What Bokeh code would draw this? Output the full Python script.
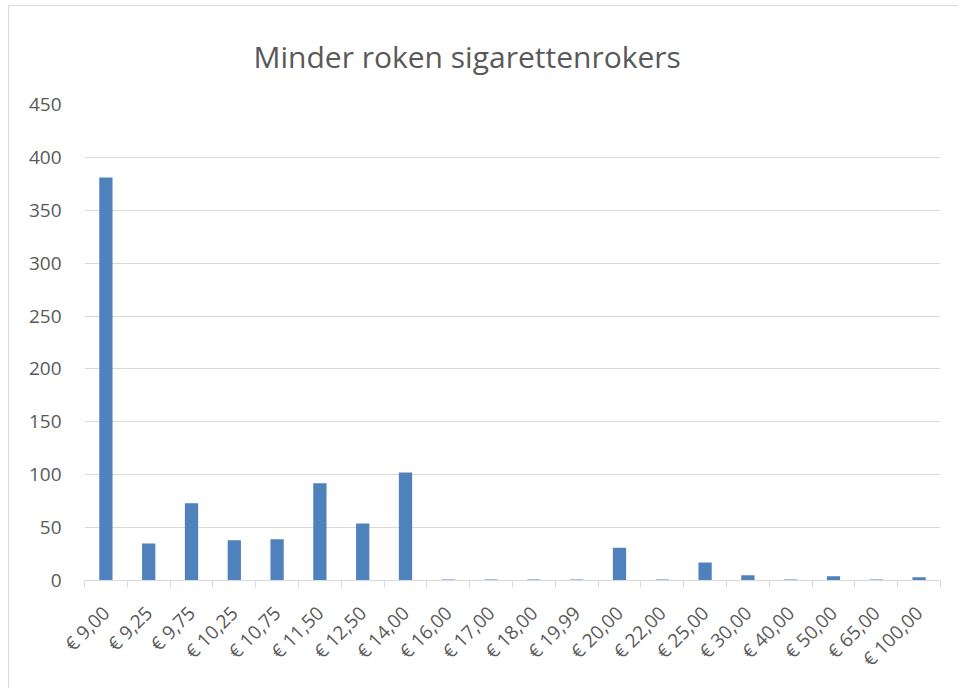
import math
import numpy as np
from bokeh.plotting import figure
from bokeh.models import FixedTicker, Range1d, ColumnDataSource
from bokeh.embed import file_html
from bokeh.resources import INLINE

# ---- data ----
categories = ["€ 9,00", "€ 9,25", "€ 9,75", "€ 10,25", "€ 10,75", "€ 11,50",
              "€ 12,50", "€ 14,00", "€ 16,00", "€ 17,00", "€ 18,00", "€ 19,99",
              "€ 20,00", "€ 22,00", "€ 25,00", "€ 30,00", "€ 40,00", "€ 50,00",
              "€ 65,00", "€ 100,00"]
counts = [381, 35, 73, 38, 39, 92, 54, 102, 1, 1, 1, 1, 31, 1, 17, 5, 1, 4, 1, 3]
y_ticks = [0, 50, 100, 150, 200, 250, 300, 350, 400, 450]
title_text = "Minder roken sigarettenrokers"

FONT = "Open Sans"
TXT = "#595959"
GRID = "#d9d9d9"

n = len(categories)
xs = np.arange(n) + 0.5
src = ColumnDataSource(dict(x=xs, top=counts, label=categories))

p = figure(width=950, height=683, output_backend="svg", toolbar_location=None,
           x_range=Range1d(0, n), y_range=Range1d(y_ticks[0], y_ticks[-1]),
           min_border_left=75, min_border_right=19, min_border_top=98,
           min_border_bottom=109,
           styles={"border-left": "1px solid #d9d9d9", "border-top": "1px solid #d9d9d9",
                   "margin-left": "8px", "margin-top": "5px"})

p.vbar(x="x", top="top", bottom=0, width=0.31, source=src,
       fill_color="#4f81bd", line_color=None)

# title
p.title.text = title_text
p.title.text_font = FONT
p.title.text_font_size = "30px"
p.title.text_font_style = "normal"
p.title.text_color = TXT
p.title.align = "left"
p.title.offset = 169
p.title.standoff = 55

p.outline_line_color = None
p.background_fill_color = "white"
p.border_fill_color = "white"

# x axis
xa = p.xaxis[0]
xa.ticker = FixedTicker(ticks=list(xs), minor_ticks=list(np.arange(n + 1)))
xa.major_label_overrides = {float(x): c for x, c in zip(xs, categories)}
xa.major_label_orientation = math.pi / 4
xa.major_label_text_font = FONT
xa.major_label_text_font_size = "19px"
xa.major_label_text_color = TXT
xa.major_label_standoff = 22
xa.axis_line_color = GRID
xa.major_tick_in = 0
xa.major_tick_out = 0
xa.minor_tick_in = 0
xa.minor_tick_out = 7
xa.minor_tick_line_color = GRID

# y axis
ya = p.yaxis[0]
ya.ticker = FixedTicker(ticks=y_ticks)
ya.axis_line_color = None
ya.major_tick_line_color = None
ya.minor_tick_line_color = None
ya.major_label_text_font = FONT
ya.major_label_text_font_size = "19px"
ya.major_label_text_color = TXT
ya.major_label_standoff = 17

p.xgrid.grid_line_color = None
p.ygrid.grid_line_color = GRID
p.ygrid.ticker = FixedTicker(ticks=y_ticks)

open("out.html", "w").write(file_html(p, INLINE))
